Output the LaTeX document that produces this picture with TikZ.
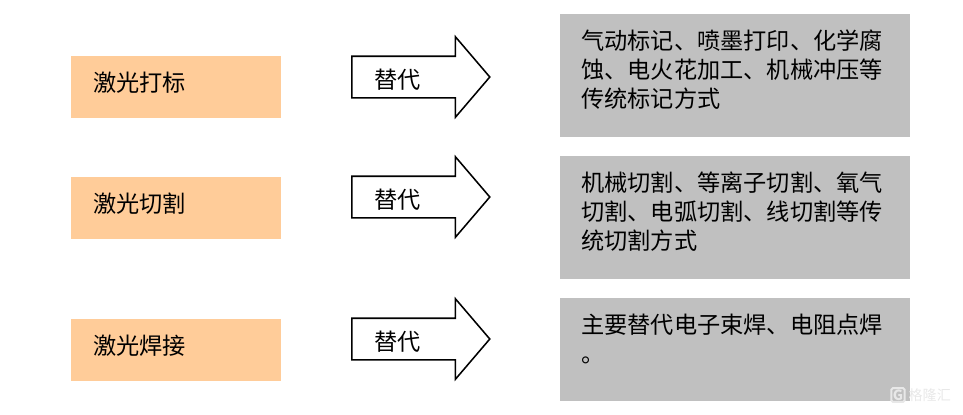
\documentclass[tikz,border=0pt]{standalone}
\usepackage{fontspec}
\setmainfont{Noto Sans CJK SC}
\usetikzlibrary{shapes.arrows}
\definecolor{boxorange}{HTML}{FFCC99}
\definecolor{boxgray}{HTML}{C0C0C0}
\newcommand{\sidetext}[2]{\parbox[t][#1][t]{7.7cm}{\vspace*{0.4cm}\baselineskip=20.6pt #2}}

\begin{document}
\begin{tikzpicture}[
    every node/.style={font=\fontsize{16.5pt}{20.6pt}\selectfont},
    laser/.style={rectangle,fill=boxorange,minimum width=5.25cm,minimum height=1.55cm,text width=4.15cm,inner xsep=0.55cm,inner ysep=0pt,align=left,text height=0.5cm,text depth=0.26cm},
    method/.style={rectangle,fill=boxgray,anchor=north west,inner xsep=0.525cm,inner ysep=0pt},
    swap/.style={single arrow,draw,line width=1.1pt,anchor=west,minimum height=3.45cm,minimum width=1.98cm,single arrow head extend=0.49cm,single arrow tip angle=99,inner xsep=0.175cm,inner ysep=0pt,text height=0.78cm,text depth=0.22cm},
    brandtext/.style={font=\fontsize{10pt}{11pt}\selectfont,text=black!9,inner sep=0pt}
]
\useasboundingbox (0,0) rectangle (24.075,10.35);

% Left column
\node[laser] (marking) at (4.4,8.1875) {激光打标};
\node[laser] (cutting) at (4.4,5.1625) {激光切割};
\node[laser] (welding) at (4.4,1.6125) {激光焊接};

% Arrows
\node[swap] (swapa) at (8.775,8.425) {\hspace*{-0.7cm}替代};
\node[swap] (swapb) at (8.775,5.425) {\hspace*{-0.7cm}替代};
\node[swap] (swapc) at (8.775,1.875) {\hspace*{-0.7cm}替代};

% Right column
\node[method] (marktext) at (14,10) {\sidetext{3.075cm}{气动标记、喷墨打印、化学腐\\蚀、电火花加工、机械冲压等\\传统标记方式}};
\node[method] (cuttext) at (14,6.45) {\sidetext{3.075cm}{机械切割、等离子切割、氧气\\切割、电弧切割、线切割等传\\统切割方式}};
\node[method] (weldtext) at (14,2.9) {\sidetext{2.575cm}{主要替代电子束焊、电阻点焊\\。}};

% Watermark
\node[draw=black!9,line width=1.4pt,rounded corners=1pt,font=\fontsize{10pt}{10pt}\selectfont\bfseries,text=black!9,inner sep=1pt] (logo) at (22.45,0.475) {G};
\node[brandtext,anchor=west,xshift=2pt] (brand) at (logo.east) {格隆汇};
\end{tikzpicture}
\end{document}
